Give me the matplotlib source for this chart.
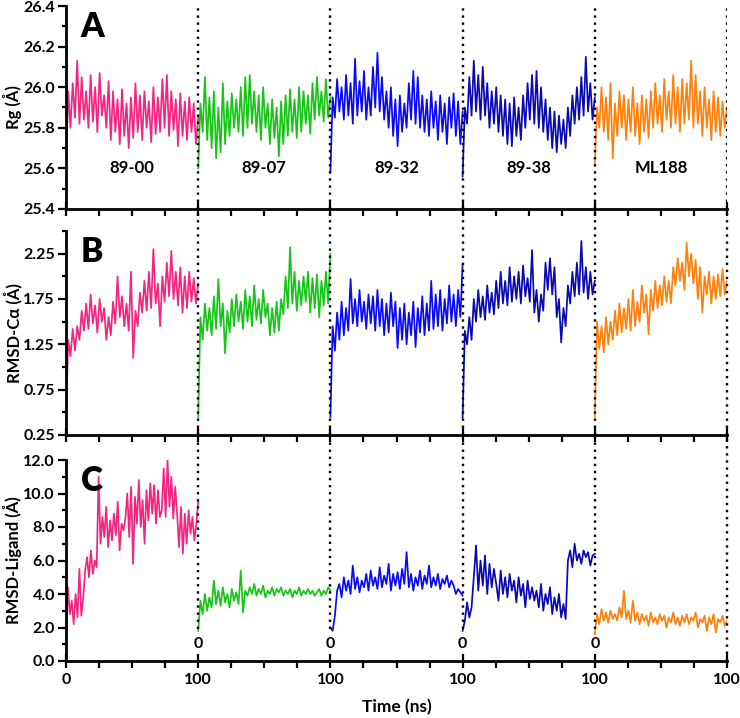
# %% ==========================================================================
# Import and Definitions
# =============================================================================
import matplotlib
matplotlib.use("Agg")
import matplotlib.pyplot as plt
import numpy as np
from matplotlib.ticker import MultipleLocator, FormatStrFormatter

plt.rcParams['font.family'] = ['Lato', 'DejaVu Sans']
plt.rcParams['font.weight'] = 'bold'

# %% ==========================================================================
# Data (100 ns per system)
# =============================================================================
systems = ["89-00", "89-07", "89-32", "89-38", "ML188"]
colors = ["#F2267F", "#18C418", "#0A0AF5", "#0A0AB0", "#FF800A"]
seg_len = 100  # ns
x_tick_labels = ["0", "100", "100", "100", "100", "100"]

# Panel A - Rg (Å)
rg_8900 = [25.60, 25.98, 25.80, 26.02, 25.85, 26.13, 25.82, 26.05, 25.84, 25.98,
           25.80, 26.06, 25.83, 26.00, 25.78, 26.07, 25.86, 25.96, 25.80, 26.03,
           25.74, 25.98, 25.78, 25.94, 25.72, 25.99, 25.76, 25.92, 25.70, 25.95,
           25.75, 26.02, 25.78, 25.96, 25.74, 25.98, 25.80, 25.93, 25.73, 26.00,
           25.77, 25.95, 25.78, 26.04, 25.80, 26.06, 25.76, 25.98, 25.79, 25.94,
           25.71, 25.97, 25.76, 25.93, 25.74, 25.95, 25.78, 25.92, 25.72, 25.85]
rg_8907 = [25.60, 25.92, 25.78, 26.05, 25.74, 25.95, 25.70, 25.98, 25.65, 25.90,
           25.68, 26.02, 25.72, 25.93, 25.76, 25.97, 25.80, 25.94, 25.78, 26.00,
           25.76, 26.05, 25.80, 26.06, 25.82, 25.98, 25.78, 25.96, 25.74, 26.00,
           25.80, 25.92, 25.72, 25.94, 25.75, 25.90, 25.66, 25.93, 25.72, 25.96,
           25.76, 25.99, 25.78, 25.94, 25.75, 26.00, 25.78, 25.98, 25.82, 25.96,
           25.77, 26.02, 25.84, 26.05, 25.86, 25.98, 25.83, 26.04, 25.85, 25.95]
rg_8932 = [25.58, 25.95, 25.85, 26.04, 25.88, 26.00, 25.84, 26.06, 25.86, 26.02,
           25.82, 26.14, 25.86, 26.03, 25.88, 26.08, 25.84, 26.00, 25.86, 26.10,
           25.90, 26.17, 25.88, 26.05, 25.84, 25.98, 25.80, 26.00, 25.76, 25.94,
           25.71, 25.96, 25.78, 25.92, 25.80, 26.02, 25.84, 26.08, 25.82, 26.05,
           25.80, 25.96, 25.78, 25.94, 25.76, 25.98, 25.80, 25.93, 25.74, 25.96,
           25.78, 25.92, 25.72, 25.95, 25.80, 25.97, 25.76, 25.93, 25.72, 25.88]
rg_8938 = [25.56, 25.90, 25.82, 26.05, 25.86, 26.13, 25.88, 26.06, 25.84, 26.10,
           25.86, 26.02, 25.80, 25.98, 25.82, 26.00, 25.78, 25.96, 25.76, 25.94,
           25.72, 25.92, 25.71, 25.95, 25.76, 25.90, 25.74, 25.96, 25.80, 26.02,
           25.84, 26.06, 25.82, 26.08, 25.80, 26.00, 25.78, 25.94, 25.74, 25.90,
           25.70, 25.88, 25.68, 25.86, 25.72, 25.84, 25.70, 25.90, 25.76, 25.96,
           25.82, 26.00, 25.84, 26.05, 25.86, 26.15, 25.88, 26.02, 25.84, 25.95]
rg_ml188 = [25.62, 25.90, 25.80, 26.00, 25.78, 25.95, 25.74, 26.02, 25.65, 25.92,
            25.76, 25.98, 25.80, 25.96, 25.74, 25.94, 25.78, 26.00, 25.76, 25.92,
            25.72, 25.96, 25.78, 25.94, 25.75, 25.98, 25.80, 26.02, 25.82, 25.96,
            25.78, 26.04, 25.84, 25.98, 25.80, 26.06, 25.82, 26.00, 25.78, 26.04,
            25.82, 26.02, 25.84, 26.13, 25.80, 26.06, 25.82, 25.98, 25.76, 26.00,
            25.80, 25.94, 25.74, 25.98, 25.78, 25.95, 25.76, 25.93, 25.80, 25.90]

# Panel B - RMSD-Calpha (Å)
ca_8900 = [0.42, 1.30, 1.12, 1.42, 1.18, 1.45, 1.30, 1.62, 1.40, 1.70,
           1.42, 1.80, 1.48, 1.68, 1.38, 1.75, 1.50, 1.65, 1.30, 1.55,
           1.35, 1.72, 1.48, 2.00, 1.55, 1.78, 1.45, 1.70, 1.40, 2.05,
           1.10, 1.62, 1.45, 1.82, 1.60, 1.95, 1.62, 2.05, 1.65, 2.30,
           1.70, 1.92, 1.45, 2.00, 1.72, 2.15, 1.78, 2.28, 1.75, 2.05,
           1.68, 2.10, 1.60, 2.00, 1.65, 2.05, 1.72, 1.98, 1.70, 1.92]
ca_8907 = [0.45, 1.55, 1.30, 1.70, 1.40, 1.65, 1.35, 1.78, 1.42, 1.97,
           1.45, 1.70, 1.15, 1.62, 1.38, 1.75, 1.45, 1.80, 1.50, 1.72,
           1.42, 1.85, 1.50, 1.78, 1.45, 1.90, 1.52, 1.75, 1.48, 1.85,
           1.55, 1.70, 1.35, 1.65, 1.38, 1.72, 1.40, 1.75, 1.58, 2.00,
           1.65, 2.32, 1.70, 2.05, 1.62, 1.95, 1.68, 2.00, 1.72, 2.05,
           1.60, 1.98, 1.65, 2.02, 1.55, 1.95, 1.68, 2.05, 1.70, 2.25]
ca_8932 = [0.45, 1.45, 1.18, 1.60, 1.30, 1.72, 1.35, 1.65, 1.40, 1.97,
           1.48, 1.75, 1.45, 1.85, 1.50, 1.72, 1.42, 1.80, 1.48, 1.78,
           1.40, 1.85, 1.45, 1.75, 1.35, 1.70, 1.38, 1.82, 1.45, 1.72,
           1.21, 1.65, 1.30, 1.70, 1.25, 1.60, 1.35, 1.72, 1.22, 1.65,
           1.38, 1.78, 1.35, 1.70, 1.40, 1.95, 1.42, 1.80, 1.45, 1.85,
           1.40, 1.75, 1.48, 1.90, 1.50, 1.80, 1.45, 1.85, 1.55, 2.13]
ca_8938 = [0.44, 1.40, 1.25, 1.55, 1.30, 1.75, 1.50, 1.85, 1.55, 1.78,
           1.52, 1.90, 1.60, 1.82, 1.58, 1.95, 1.65, 2.05, 1.70, 1.95,
           1.68, 2.10, 1.72, 2.00, 1.75, 2.05, 1.70, 2.12, 1.78, 1.98,
           1.72, 2.29, 1.60, 1.85, 1.50, 1.80, 1.62, 2.15, 1.85, 2.20,
           1.80, 2.10, 1.55, 1.75, 1.27, 1.65, 1.45, 1.90, 1.70, 2.05,
           1.78, 2.15, 1.80, 2.39, 1.82, 2.10, 1.75, 2.05, 1.80, 1.95]
ca_ml188 = [0.45, 1.50, 1.20, 1.45, 1.16, 1.55, 1.25, 1.50, 1.30, 1.62,
            1.35, 1.70, 1.38, 1.65, 1.42, 1.75, 1.40, 1.85, 1.45, 1.72,
            1.50, 1.90, 1.60, 1.80, 1.36, 1.85, 1.62, 1.95, 1.65, 1.90,
            1.68, 2.00, 1.72, 1.95, 1.70, 2.10, 1.90, 2.20, 1.95, 2.15,
            1.85, 2.37, 2.00, 2.25, 1.92, 2.18, 1.75, 2.10, 1.60, 2.00,
            1.80, 2.05, 1.70, 2.00, 1.75, 2.02, 1.78, 2.08, 1.80, 1.95]

# Panel C - RMSD-Ligand (Å)
lig_8900 = [1.4, 4.4, 2.8, 3.6, 2.2, 4.0, 2.6, 5.5, 2.7, 3.8,
            5.4, 6.2, 5.0, 6.6, 5.2, 6.0, 5.6, 11.0,
            7.0, 8.6, 7.4, 9.2, 6.8, 8.4, 7.2, 8.8, 7.5, 9.5, 6.6, 8.2, 7.8,
            8.5, 10.0, 7.4, 10.4, 5.8, 9.8, 8.2, 10.8, 8.0, 9.6,
            7.0, 10.2, 8.4, 10.6, 8.8, 10.5, 8.2, 10.2, 8.6,
            9.0, 11.5, 8.6, 12.0, 9.2, 11.0, 8.5, 10.4, 8.8,
            6.8, 9.2, 6.4, 8.8, 7.0, 9.0, 7.6, 8.6, 7.2, 8.2, 9.5]
lig_8907 = [1.8, 3.6, 2.8, 4.0, 3.0, 3.8, 3.2, 4.8, 3.4, 4.2,
            3.3, 4.4, 3.5, 4.0, 3.2, 4.3, 3.6, 4.1, 3.4, 5.4, 2.9,
            4.2, 3.9, 4.4, 4.0, 4.6, 3.9, 4.3, 4.0, 4.5, 3.8,
            4.2, 4.0, 4.4, 3.9, 4.3, 4.1, 4.4, 3.9, 4.2, 4.0,
            4.3, 3.8, 4.2, 4.0, 4.4, 3.9, 4.2, 4.0, 4.3, 4.0,
            4.2, 3.9, 4.1, 4.3, 3.9, 4.2, 4.0, 4.4, 4.2]
lig_8932 = [2.0, 1.8, 2.7,
            4.2, 4.6, 3.8, 5.0, 4.2, 4.8, 4.0, 5.7, 4.3, 5.0, 4.1, 4.8,
            4.4, 5.2, 4.2, 5.4, 4.5, 5.0, 4.3, 5.6, 4.4, 5.1, 4.6,
            5.8, 4.2, 5.2, 4.5, 5.3, 4.3, 5.5, 4.6, 6.5, 4.4, 5.2,
            4.2, 5.0, 4.5, 5.4, 4.3, 5.1, 4.6, 5.7, 4.4, 5.0, 4.5,
            5.2, 4.3, 4.9, 4.6, 5.1, 4.4, 4.8, 4.5, 4.0, 4.3, 4.1, 3.9]
lig_8938 = [1.8, 2.4, 3.5, 2.6, 3.2,
            5.0, 6.9, 4.2, 6.0, 4.5, 6.3, 4.0, 5.8, 4.4, 5.5,
            4.6, 3.6, 5.4, 4.0, 5.0, 3.8, 5.2, 4.2, 4.8, 3.5,
            5.0, 3.9, 4.6, 3.2, 4.8, 3.7, 4.4, 3.6,
            4.2, 3.2, 4.6, 3.0, 4.0, 3.4, 4.4, 2.8, 3.8, 3.0,
            4.0, 2.6, 3.4, 2.5,
            6.0, 6.6, 5.6, 7.0, 6.0, 6.4, 5.8, 6.6, 6.2, 6.5, 5.7, 6.3, 6.4]
lig_ml188 = [1.6, 2.8, 2.2, 3.1, 2.4, 2.9, 2.3, 3.0, 2.5, 2.8,
             2.4, 3.2, 2.6, 4.2, 2.5, 3.0, 2.3, 3.6, 2.4, 2.9,
             2.2, 2.8, 2.4, 2.7, 2.1, 2.9, 2.3, 2.6, 2.2, 2.8,
             2.4, 2.7, 2.0, 2.6, 2.3, 2.9, 2.2, 2.6, 2.1, 2.7,
             2.3, 2.8, 2.2, 2.6, 2.4, 2.9, 2.0, 2.5, 2.3, 2.7,
             1.8, 2.6, 2.2, 2.8, 1.7, 2.5, 2.3, 2.7, 2.1, 2.4]

panels = [
    dict(letter="A", ylabel="Rg (Å)", ylim=(25.4, 26.4), major=0.2, minor=0.1,
         fmt="%.1f", series=[rg_8900, rg_8907, rg_8932, rg_8938, rg_ml188]),
    dict(letter="B", ylabel="RMSD-Cα (Å)", ylim=(0.25, 2.5), major=0.5, minor=0.25,
         fmt="%.2f", series=[ca_8900, ca_8907, ca_8932, ca_8938, ca_ml188]),
    dict(letter="C", ylabel="RMSD-Ligand (Å)", ylim=(0.0, 12.0), major=2.0, minor=1.0,
         fmt="%.1f", series=[lig_8900, lig_8907, lig_8932, lig_8938, lig_ml188]),
]

# %% ==========================================================================
# Plot
# =============================================================================
W, H = 740, 718
fig = plt.figure(figsize=(W / 100, H / 100), dpi=100)
boxes = [(6, 209), (231, 435), (460, 661)]  # top/bottom in pixels
x0, x1 = 66, 727
axes = []
for (top, bot), p in zip(boxes, panels):
    ax = fig.add_axes([x0 / W, 1 - bot / H, (x1 - x0) / W, (bot - top) / H])
    axes.append(ax)
    for k, (vals, c) in enumerate(zip(p["series"], colors)):
        t = k * seg_len + np.linspace(0, seg_len, len(vals))
        ax.plot(t, vals, color=c, lw=1.25, zorder=2)
    ax.set_xlim(0, 5 * seg_len)
    ax.set_ylim(*p["ylim"])
    # y ticks
    lo = p["ylim"][0]
    ax.set_yticks(np.arange(lo, p["ylim"][1] + 1e-6, p["major"]))
    ax.yaxis.set_minor_locator(MultipleLocator(p["minor"]))
    ax.yaxis.set_major_formatter(FormatStrFormatter(p["fmt"]))
    ax.tick_params(axis='y', which='major', length=6, width=1.6, labelsize=11.5, pad=2)
    ax.tick_params(axis='y', which='minor', length=3, width=1.6)
    # x ticks
    ax.set_xticks(np.arange(0, 5 * seg_len + 1, seg_len))
    ax.xaxis.set_minor_locator(MultipleLocator(25))
    ax.tick_params(axis='x', which='major', direction='inout', length=10, width=1.6,
                   labelsize=11.5, pad=4)
    ax.tick_params(axis='x', which='minor', length=5, width=1.6)
    for s in ['top', 'right']:
        ax.spines[s].set_visible(False)
    for s in ['left', 'bottom']:
        ax.spines[s].set_linewidth(2.0)
    ax.set_ylabel(p["ylabel"], fontsize=12, fontweight='bold')
    ax.yaxis.set_label_coords(-0.066, 0.5)
    ax.text(0.022, 0.975, p["letter"], transform=ax.transAxes, fontsize=24,
            fontweight='heavy', va='top', ha='left')
    ax.set_facecolor('none')

axA, axB, axC = axes
axA.set_xticklabels([])
axB.set_xticklabels([])
axC.set_xticklabels(x_tick_labels)
axC.set_xlabel("Time (ns)", fontsize=12.5, fontweight='bold', labelpad=8)
for lab in axC.get_xticklabels() + axA.get_yticklabels() + axB.get_yticklabels() + axC.get_yticklabels():
    lab.set_fontweight('bold')

# dotted separators between systems
gap = 22 / 203
for b in range(1, 6):
    xb = b * seg_len
    axA.axvline(xb, color='black', ls=(0, (1, 2)), lw=1.7, zorder=3)
    axB.axvline(xb, ymin=0, ymax=1 + gap, color='black', ls=(0, (1, 2)), lw=1.7,
                zorder=3, clip_on=False)
    ymin_c = 0 if b == 5 else 1.9 / 12
    axC.axvline(xb, ymin=ymin_c, ymax=1 + gap, color='black', ls=(0, (1, 2)), lw=1.7,
                zorder=3, clip_on=False)
    if b < 5:
        axC.text(xb, 1.0, "0", ha='center', va='center', fontsize=11.5, fontweight='bold')

# system names in panel A
for k, name in enumerate(systems):
    axA.text(k * seg_len + seg_len / 2, 25.60, name, ha='center', va='center',
             fontsize=12, fontweight='bold')

fig.savefig("out.png", dpi=100)
